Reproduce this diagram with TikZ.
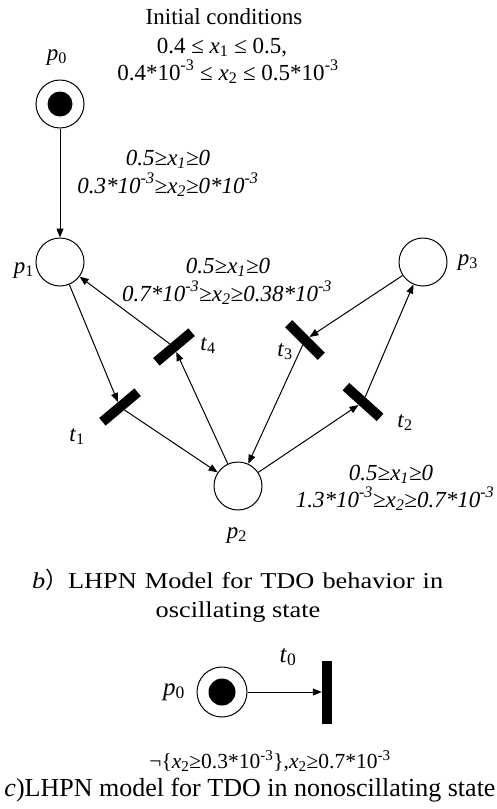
\documentclass[tikz,border=0pt]{standalone}
\usepackage{fontspec}
\setmainfont{Liberation Serif}
\newfontfamily\widefont[FakeStretch=1.16]{Liberation Serif}
\newfontfamily\cjkfont{Noto Sans CJK SC}
\usetikzlibrary{arrows.meta}
% x with a subscript, and the power -3
\newcommand\xs[1]{\textit{x}\textsubscript{#1}}
\newcommand\ms{\textsuperscript{-3}}
\begin{document}
\begin{tikzpicture}[x=1pt,y=-1pt,
  place/.style={circle,draw,line width=1pt,minimum size=48pt,inner sep=0pt},
  marked/.style={path picture={\fill[black] (path picture bounding box.center) circle (#1);}},
  bar/.style={rectangle,fill=black,minimum width=46pt,minimum height=10pt,inner sep=0pt},
  flow/.style={line width=1pt,-{Triangle[length=9pt,width=7pt]}},
  lbl/.style={font=\fontsize{23}{27}\selectfont,inner sep=0pt,anchor=base},
  guard/.style={font=\fontsize{23}{27}\selectfont\itshape,inner sep=0pt,anchor=base},
  caption/.style={inner sep=0pt,anchor=base},
]
\useasboundingbox (0,0) rectangle (496,809);

% initial conditions
\node[lbl] (ic0) at (224,24) {Initial conditions};
\node[lbl] (ic1) at (222,53) {0.4 ≤ \xs{1} ≤ 0.5,};
\node[lbl] (ic2) at (228,80) {0.4*10\ms{} ≤ \xs{2} ≤ 0.5*10\ms};

% places of the oscillating model
\node[place,marked=12.5pt] (p0) at (60,104) {};
\node[place] (p1) at (60,262) {};
\node[place] (p2) at (238,486) {};
\node[place] (p3) at (423,262) {};

% transitions
\node[bar,rotate=40]  (t1) at (120,407) {};
\node[bar,rotate=40]  (t4) at (174,347) {};
\node[bar,rotate=-45] (t3) at (305,340) {};
\node[bar,rotate=-42] (t2) at (363,402) {};

% arcs
\draw[flow] (p0) -- (p1);
\draw[flow] (p1) -- (t1);
\draw[flow] (t1) -- (p2);
\draw[flow] (p2) -- (t4);
\draw[flow] (t4) -- (p1);
\draw[flow] (p2) -- (t2);
\draw[flow] (t2) -- (p3);
\draw[flow] (p3) -- (t3);
\draw[flow] (t3) -- (p2);

% place and transition names
\node[lbl] (lp0) at (57,60)  {\textit{p}\textsubscript{0}};
\node[lbl] (lp1) at (24,273) {\textit{p}\textsubscript{1}};
\node[lbl] (lp2) at (237,538) {\textit{p}\textsubscript{2}};
\node[lbl] (lp3) at (468,265) {\textit{p}\textsubscript{3}};
\node[lbl] (lt1) at (77,441)  {\textit{t}\textsubscript{1}};
\node[lbl] (lt2) at (405,427) {\textit{t}\textsubscript{2}};
\node[lbl] (lt3) at (285,356) {\textit{t}\textsubscript{3}};
\node[lbl] (lt4) at (208,350) {\textit{t}\textsubscript{4}};

% guards
\node[guard] (g1a) at (168,165) {0.5≥\xs{1}≥0};
\node[guard] (g1b) at (168,193) {0.3*10\ms≥\xs{2}≥0*10\ms};
\node[guard] (g2a) at (228,273) {0.5≥\xs{1}≥0};
\node[guard] (g2b) at (227,301) {0.7*10\ms≥\xs{2}≥0.38*10\ms};
\node[guard] (g3a) at (391,480) {0.5≥\xs{1}≥0};
\node[guard] (g3b) at (395,507) {1.3*10\ms≥\xs{2}≥0.7*10\ms};

% caption b
\node[caption,anchor=base west,font=\fontsize{22.7}{27}\widefont] (capb1) at (32,588)
  {\makebox[411pt][s]{\textit{b}{\cjkfont ）}LHPN Model for TDO behavior in}};
\node[caption,font=\fontsize{22.7}{27}\widefont] (capb2) at (238,617)
  {oscillating state};

% non-oscillating model
\node[place,minimum size=50pt,marked=13.5pt] (q0) at (222,692) {};
\node[bar,minimum width=10pt,minimum height=63pt] (t0) at (327,692) {};
\draw[flow] (q0) -- (t0);
\node[lbl,font=\fontsize{25}{29}\selectfont] (lq0) at (174,695) {\textit{p}\textsubscript{0}};
\node[lbl,font=\fontsize{25}{29}\selectfont] (lt0) at (288,662) {\textit{t}\textsubscript{0}};

% caption c
\node[caption,font=\fontsize{21.5}{26}\selectfont] (capc1) at (270,768)
  {¬\{\xs{2}≥0.3*10\ms\},\xs{2}≥0.7*10\ms};
\node[caption,font=\fontsize{26}{30}\selectfont] (capc2) at (250,796)
  {\textit{c})LHPN model for TDO in nonoscillating state};
\end{tikzpicture}
\end{document}
